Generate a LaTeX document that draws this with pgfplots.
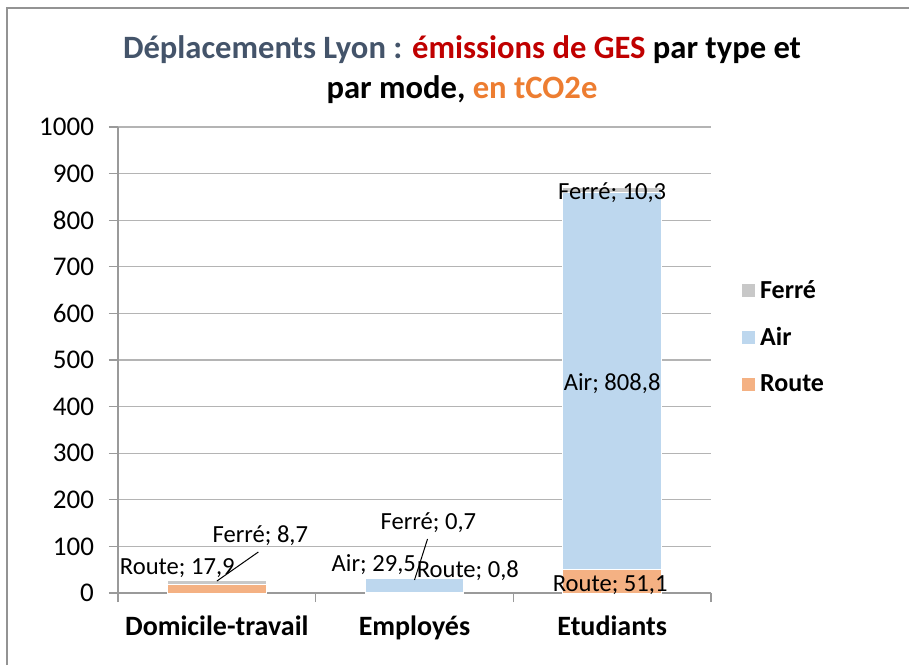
\documentclass[border=0pt]{standalone}
\usepackage{pgfplots}
\pgfplotsset{compat=1.18}
\usepackage{fontspec}
\setmainfont{Carlito}
\definecolor{route}{HTML}{F4B183}
\definecolor{air}{HTML}{BDD7EE}
\definecolor{ferre}{HTML}{C8C8C8}
\definecolor{gridc}{HTML}{B4B4B4}
\definecolor{axisc}{HTML}{9A9A9A}
\definecolor{tslate}{HTML}{44546A}
\definecolor{tred}{HTML}{C00000}
\definecolor{torange}{HTML}{ED7D31}
\newcommand{\lf}{\fontsize{12.3}{14}\selectfont}
\pgfplotsset{
  sqlegend/.style={legend image code/.code={\fill[##1] (0pt,-3.5pt) rectangle (7pt,3.5pt);}},
}
\begin{document}
\begin{tikzpicture}
\path[use as bounding box] (0,0) rectangle (454.5pt,332.5pt);
\draw[gray!85, line width=1pt] (3.5pt,0) -- (3.5pt,328.5pt) -- (454.5pt,328.5pt);
\node[align=center, font=\bfseries\fontsize{16.3}{20}\selectfont] at (231pt,297.5pt)
  {\textcolor{tslate}{Déplacements Lyon :} \textcolor{tred}{émissions de GES} par type et\\
   par mode, \textcolor{torange}{en tCO2e}};
\begin{axis}[
  at={(59pt,36pt)}, anchor=south west,
  scale only axis, width=296.5pt, height=233pt,
  ybar stacked, bar width=0.5,
  xmin=-0.5, xmax=2.5, ymin=0, ymax=1000,
  ytick={0,100,...,1000},
  xtick={-0.5,0.5,1.5,2.5},
  xticklabels={},
  extra x ticks={0,1,2},
  extra x tick labels={Domicile-travail,Employés,Etudiants},
  extra x tick style={major tick length=0pt, grid=none},
  tick align=outside,
  major tick length=4.5pt,
  tick style={axisc, line width=0.6pt},
  axis x line*=bottom, axis y line*=left,
  axis line style={axisc, line width=0.6pt, -},
  ymajorgrids, grid style={gridc, line width=0.6pt},
  /pgf/number format/assume math mode=true,
  /pgf/number format/1000 sep={},
  yticklabel style={font=\fontsize{13.5}{15}\selectfont, xshift=-4pt},
  xticklabel style={font=\bfseries\fontsize{14}{16}\selectfont, yshift=-8pt},
  legend style={draw=none, fill=none, at={(1.04,0.549)}, anchor=west,
    row sep=9pt, font=\bfseries\fontsize{13}{15}\selectfont, cells={anchor=west}},
  sqlegend,
  reverse legend,
  clip=false,
]
\addplot[fill=route, draw=white, line width=0.5pt] coordinates {(0,17.9) (1,0.8) (2,51.1)};
\addlegendentry{Route}
\addplot[fill=air, draw=white, line width=0.5pt] coordinates {(0,0) (1,29.5) (2,808.8)};
\addlegendentry{Air}
\addplot[fill=ferre, draw=white, line width=0.5pt] coordinates {(0,8.7) (1,0.7) (2,10.3)};
\addlegendentry{Ferré}
\coordinate (l1a) at (axis cs:0.0,25.6);
\coordinate (l1b) at (axis cs:0.21,88);
\coordinate (l2a) at (axis cs:1.0,28);
\coordinate (l2b) at (axis cs:1.066,116);
\coordinate (t1) at (axis cs:-0.2,53.5);
\coordinate (t2) at (axis cs:0.22,123);
\coordinate (t3) at (axis cs:0.794,61);
\coordinate (t4) at (axis cs:1.07,151);
\coordinate (t5) at (axis cs:1.27,48);
\coordinate (t6) at (axis cs:1.99,17);
\coordinate (t7) at (axis cs:2.0,450);
\coordinate (t8) at (axis cs:2.0,860);
\end{axis}
\draw[black, line width=0.5pt] (l1a) -- (l1b);
\draw[black, line width=0.5pt] (l2a) -- (l2b);
\node[font=\lf, inner sep=0pt] at (t1) {Route; 17,9};
\node[font=\lf, inner sep=0pt] at (t2) {Ferré; 8,7};
\node[font=\lf, inner sep=0pt] at (t3) {Air; 29,5};
\node[font=\lf, inner sep=0pt] at (t4) {Ferré; 0,7};
\node[font=\lf, inner sep=0pt] at (t5) {Route; 0,8};
\node[font=\lf, inner sep=0pt] at (t6) {Route; 51,1};
\node[font=\lf, inner sep=0pt] at (t7) {Air; 808,8};
\node[font=\lf, inner sep=0pt] at (t8) {Ferré; 10,3};
\end{tikzpicture}
\end{document}
